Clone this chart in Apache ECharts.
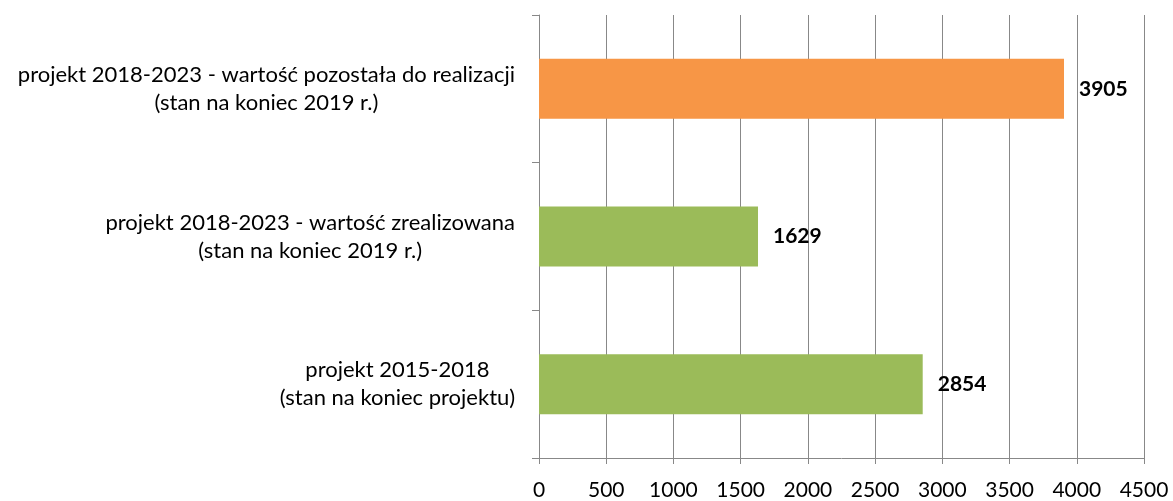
<!DOCTYPE html>
<html>
<head>
<meta charset="utf-8">
<script src="https://cdn.jsdelivr.net/npm/echarts@6/dist/echarts.min.js"></script>
<style>
  html, body { margin: 0; padding: 0; background: #fff; }
  #chart { width: 1173px; height: 501px; }
</style>
</head>
<body>
<div id="chart"></div>
<script>
// Categories listed top to bottom, each label split into its two lines
const categories = [
  ['projekt 2018-2023 - wartość pozostała do realizacji', '(stan na koniec 2019 r.)'],
  ['projekt 2018-2023 - wartość zrealizowana', '(stan na koniec 2019 r.)'],
  ['projekt 2015-2018', '(stan na koniec projektu)']
];
const values = [3905, 1629, 2854];
const barColors = ['#F79646', '#9BBB59', '#9BBB59'];
const axisMax = 4500;
const axisStep = 500;

const FONT = 'Lato, "Open Sans", sans-serif';
const GRID_COLOR = '#888888';

const chart = echarts.init(document.getElementById('chart'), null, { renderer: 'canvas' });

chart.setOption({
  animation: false,
  backgroundColor: '#ffffff',
  grid: { left: 539, right: 29, top: 15, bottom: 42, containLabel: false },
  xAxis: {
    type: 'value',
    min: 0,
    max: axisMax,
    interval: axisStep,
    axisLine: { show: true, lineStyle: { color: GRID_COLOR, width: 1 } },
    axisTick: { show: true, length: 6, lineStyle: { color: GRID_COLOR, width: 1 } },
    splitLine: { show: true, lineStyle: { color: GRID_COLOR, width: 1 } },
    axisLabel: {
      color: '#000', fontFamily: FONT, fontSize: 21, margin: 22,
      formatter: v => String(v)
    }
  },
  yAxis: {
    type: 'category',
    inverse: true,
    data: categories.map(c => c.join('\n')),
    axisLine: { show: true, lineStyle: { color: GRID_COLOR, width: 1 } },
    axisTick: { show: true, length: 7, lineStyle: { color: GRID_COLOR, width: 1 } },
    splitLine: { show: false },
    axisLabel: {
      margin: 24,
      color: '#000',
      fontFamily: FONT,
      fontSize: 22,
      lineHeight: 28,
      formatter: v => v.split('\n').map(s => '{c|' + s + '}').join('\n'),
      rich: {
        c: { align: 'center', color: '#000', fontFamily: FONT, fontSize: 22, lineHeight: 28 }
      }
    }
  },
  series: [{
    type: 'bar',
    barWidth: 60,
    data: values.map((v, i) => ({ value: v, itemStyle: { color: barColors[i] } })),
    label: {
      show: true,
      position: 'right',
      distance: 15,
      color: '#000',
      fontFamily: FONT,
      fontWeight: 'bold',
      fontSize: 21
    }
  }]
});
</script>
</body>
</html>
